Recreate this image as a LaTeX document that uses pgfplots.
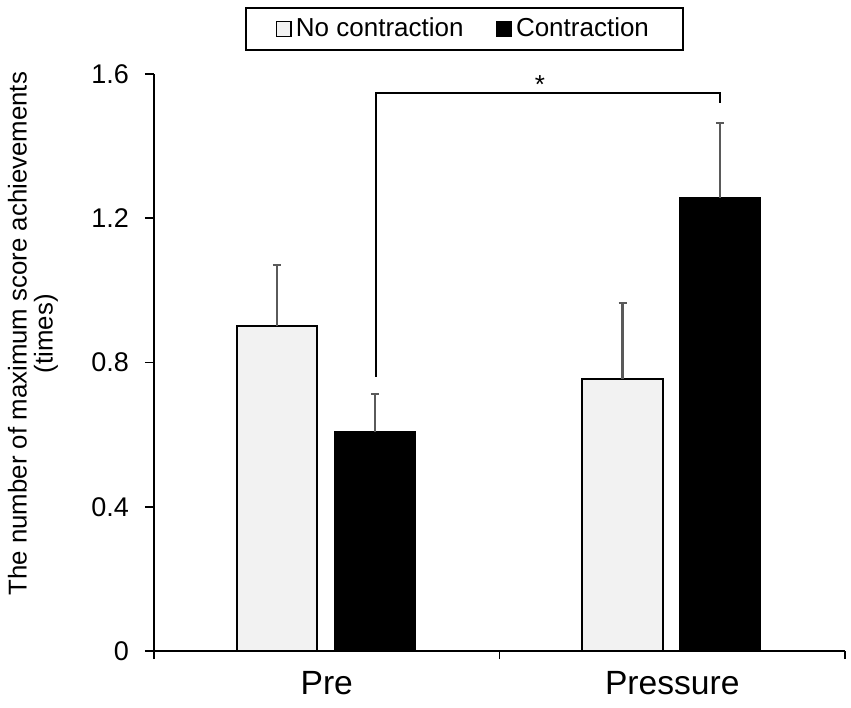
\documentclass[border=0pt]{standalone}
\usepackage{fontspec}
\setmainfont{Liberation Sans}
\usepackage{pgfplots}
\pgfplotsset{compat=1.18}
\definecolor{lightfill}{HTML}{F2F2F2}
\definecolor{errgray}{HTML}{5A5A5A}
\begin{document}
\begin{tikzpicture}
\begin{axis}[
  scale only axis, width=345.5pt, height=288.5pt,
  at={(0,0)}, anchor=south west,
  xmin=0, xmax=2, ymin=0, ymax=1.6,
  clip=false,
  axis x line*=bottom, axis y line*=left,
  axis line style={line width=0.9pt},
  ytick={0,0.4,0.8,1.2,1.6},
  yticklabels={0,0.4,0.8,1.2,1.6},
  xtick={0.5,1.5}, xticklabels={Pre,Pressure},
  minor xtick={0,1,2},
  tick align=outside,
  major tick length=4.5pt, minor tick length=4pt,
  tick style={line width=0.9pt, black},
  major x tick style={draw=none},
  /pgf/number format/assume math mode=true,
  yticklabel style={font=\fontsize{13.5}{16}\selectfont, xshift=-4.5pt},
  xticklabel style={font=\fontsize{16.8}{20}\selectfont, yshift=-2pt},
  ylabel={The number of maximum score achievements\\(times)},
  ylabel style={align=center, font=\fontsize{12.9}{13}\selectfont, at={(axis description cs:-0.175,0.55)}, anchor=center},
  legend columns=2,
  legend style={at={(0.449,1)}, anchor=south, yshift=11.5pt, draw=black, line width=1pt,
    font=\fontsize{13}{15}\selectfont, inner xsep=15pt, inner ysep=3pt,
    /tikz/every even column/.append style={column sep=14pt}},
]
\addplot[ybar, bar width=0.232, bar shift=0pt, fill=lightfill, draw=black, line width=1pt,
  legend image code/.code={\draw[fill=lightfill, draw=black, line width=0.8pt] (0pt,-3.7pt) rectangle (7.4pt,3.7pt);},
  error bars/.cd, y dir=plus, y explicit,
  error bar style={errgray, line width=1.1pt},
  error mark options={errgray, line width=1.1pt, mark size=2pt, rotate=90}]
  coordinates {(0.356,0.90) +- (0,0.17) (1.356,0.754) +- (0,0.21)};
\addlegendentry{No contraction}
\addplot[ybar, bar width=0.232, bar shift=0pt, fill=black, draw=black, line width=1pt,
  legend image code/.code={\draw[fill=black, draw=black, line width=0.8pt] (0pt,-3.7pt) rectangle (7.4pt,3.7pt);},
  error bars/.cd, y dir=plus, y explicit,
  error bar style={errgray, line width=1.1pt},
  error mark options={errgray, line width=1.1pt, mark size=2pt, rotate=90}]
  coordinates {(0.640,0.607) +- (0,0.106) (1.638,1.256) +- (0,0.208)};
\addlegendentry{Contraction}
\draw[line width=0.9pt] (axis cs:0.642,0.76) -- (axis cs:0.642,1.547) -- (axis cs:1.638,1.547) -- (axis cs:1.638,1.52);
\node[anchor=base, inner sep=0pt, font=\fontsize{13}{15}\selectfont] at (axis cs:1.117,1.545) {*};
\end{axis}
\pgfresetboundingbox
\useasboundingbox (-77pt,-28pt) rectangle (348.5pt,325.5pt);
\end{tikzpicture}
\end{document}
